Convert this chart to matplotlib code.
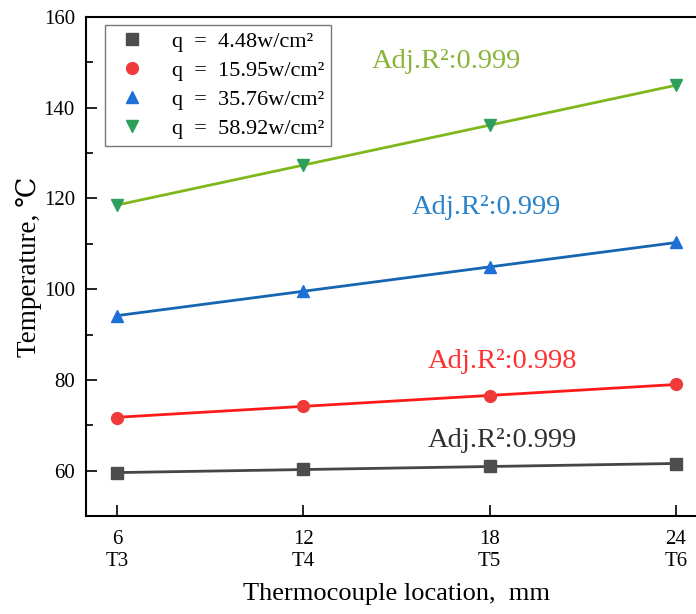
import numpy as np
import matplotlib
matplotlib.use('Agg')
import matplotlib.pyplot as plt

plt.rcParams['font.family'] = ['Liberation Serif', 'DejaVu Serif']

# 热电偶位置与温度
location = [6, 12, 18, 24]
tick_labels = ['6\nT3', '12\nT4', '18\nT5', '24\nT6']
temp_q1 = [59.5, 60.3, 61.0, 61.5]
temp_q2 = [71.7, 74.3, 76.5, 79.0]
temp_q3 = [94.1, 99.7, 104.8, 110.3]
temp_q4 = [118.6, 127.3, 136.1, 145.0]
labels = ['q  =  4.48w/cm²', 'q  =  15.95w/cm²', 'q  =  35.76w/cm²', 'q  =  58.92w/cm²']
r2_text = ['Adj.R²:0.999', 'Adj.R²:0.998', 'Adj.R²:0.999', 'Adj.R²:0.999']

markers = ['s', 'o', '^', 'v']
marker_colors = ['#4d4d4d', '#f03a3a', '#1f6fd8', '#2e9e5b']
line_colors = ['#454545', '#ff1a1a', '#1565b0', '#7fb71c']
text_colors = ['#303030', '#ff3030', '#2a82c8', '#8ab53a']
text_pos = [(16.0, 66.7), (16.0, 84.0), (15.5, 118.1), (14.2, 150.1)]

fig = plt.figure(figsize=(6.96, 6.14), dpi=100)
ax = fig.add_axes([86 / 696, 1 - 516 / 614, 621 / 696, 499 / 614])

series = [temp_q1, temp_q2, temp_q3, temp_q4]
x = np.array(location)
for i in range(4):
    y = np.array(series[i])
    k, b = np.polyfit(x, y, 1)
    ax.plot(x, k * x + b, color=line_colors[i], lw=2, zorder=2)
    ax.plot(x, y, linestyle='none', marker=markers[i], color=marker_colors[i],
            ms=8.5, label=labels[i], zorder=3)
    ax.text(text_pos[i][0], text_pos[i][1], r2_text[i], color=text_colors[i],
            fontsize=20.5, va='center', ha='left')

ax.set_xlim(5, 25)
ax.set_ylim(50, 160)
ax.set_xticks(location)
ax.set_xticklabels(tick_labels, fontsize=15, linespacing=1.2)
ax.set_yticks([60, 80, 100, 120, 140, 160])
ax.set_yticks([70, 90, 110, 130, 150], minor=True)
ax.tick_params(axis='y', which='major', direction='in', length=8, width=1.2, labelsize=15, pad=8)
ax.tick_params(axis='y', which='minor', direction='in', length=5, width=1.2)
ax.tick_params(axis='x', which='major', direction='in', length=8, width=1.2, pad=10)

for s in ['left', 'bottom', 'top']:
    ax.spines[s].set_linewidth(1.5)
ax.spines['right'].set_visible(False)

ax.set_xlabel('Thermocouple location,  mm', fontsize=19, labelpad=9)
ax.set_ylabel('Temperature, ℃', fontsize=19.5, labelpad=1)

leg = ax.legend(loc='upper left', bbox_to_anchor=(19 / 621, 1 - 8 / 499), borderaxespad=0,
                fontsize=16, frameon=True, fancybox=False, edgecolor='#555555',
                handletextpad=0.9, borderpad=0.3, labelspacing=0.38, handlelength=1.8)
leg.get_frame().set_linewidth(1.0)

fig.savefig('out.png', dpi=100)
